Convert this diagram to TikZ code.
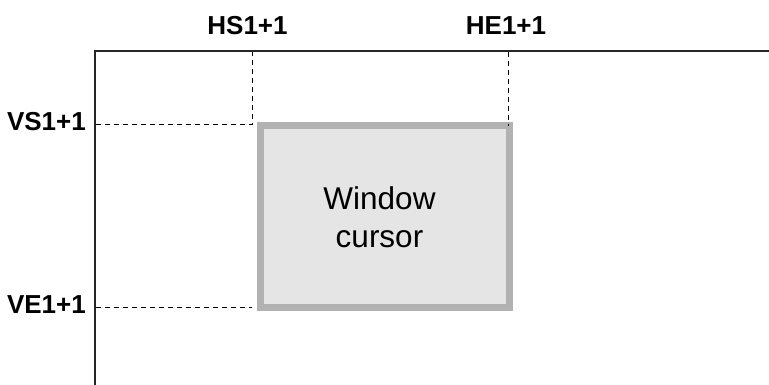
\documentclass[tikz,border=0pt]{standalone}
\usepackage{fontspec}
\setmainfont{Liberation Sans}
\begin{document}
\begin{tikzpicture}[x=1pt,y=-1pt,
  lbl/.style={font=\fontsize{26}{31}\selectfont\bfseries, inner sep=0pt},
  guide/.style={line width=1pt, dash pattern=on 5pt off 4pt, black},
  frame/.style={line width=2pt, black!85},
  cursorbox/.style={draw=black!30, fill=black!10, line width=7pt, minimum width=249pt, minimum height=182pt, inner sep=0pt}]
\useasboundingbox (0,0) rectangle (769,385);
% frame
\coordinate (ftl) at (95,51);
\coordinate (fr) at (770,51);
\coordinate (fb) at (95,386);
\draw[frame] (fb) -- (ftl) -- (fr);
% box
\node[cursorbox] (win) at (384.5,216.5) {};
\node[font=\fontsize{31.5}{38}\selectfont, align=center, inner sep=0pt] (wtxt) at (379.5,217) {Window\\cursor};
% guide coordinates
\coordinate (vsl) at (96,125);
\coordinate (vsc) at (252,125);
\coordinate (hst) at (252,52);
\coordinate (het) at (508,52);
\coordinate (heb) at (508,126);
\coordinate (vel) at (96,307);
\coordinate (ver) at (252,307);
\draw[guide] (vsl) -- (vsc) -- (hst);
\draw[guide] (het) -- (heb);
\draw[guide] (vel) -- (ver);
% labels
\node[lbl, anchor=base] (hs) at (247.5,35) {HS1+1};
\node[lbl, anchor=base] (he) at (506,35) {HE1+1};
\node[lbl, anchor=base east] (vs) at (86,131) {VS1+1};
\node[lbl, anchor=base east] (ve) at (86,313) {VE1+1};
\end{tikzpicture}
\end{document}
